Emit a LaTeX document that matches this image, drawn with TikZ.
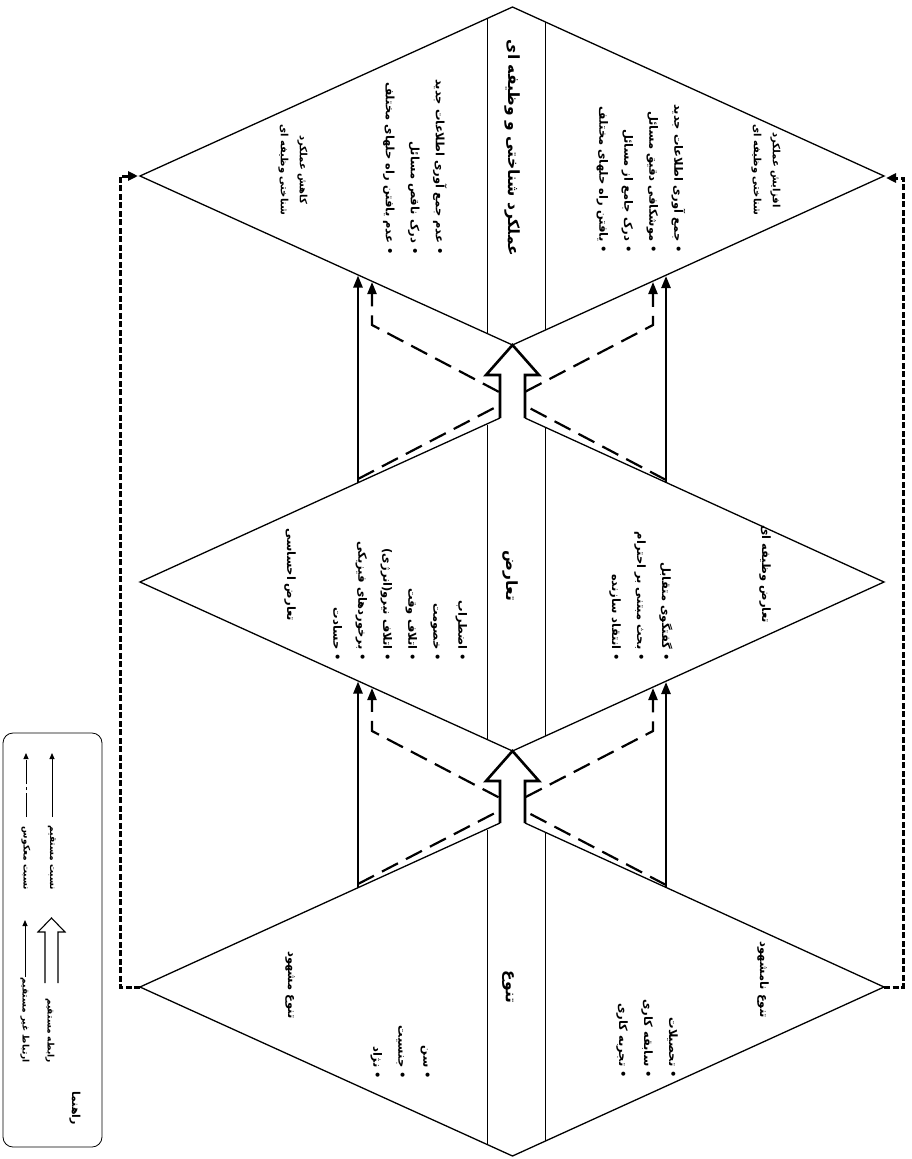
\documentclass[tikz,border=0pt]{standalone}
\usepackage{fontspec}
\usetikzlibrary{arrows.meta}
\TeXXeTstate=1
\newfontfamily\fa[Script=Arabic]{DejaVu Sans}
\newcommand{\rl}[1]{\beginR #1\endR}
\begin{document}
\begin{tikzpicture}[x=1pt,y=-1pt,
  edge/.style={line width=1.3pt, line join=miter},
  band/.style={line width=0.7pt},
  direct/.style={line width=2.4pt,-{Triangle[length=12pt,width=9pt]}},
  inverse/.style={line width=2.2pt,dash pattern=on 18pt off 9pt,-{Triangle[length=12pt,width=9pt]}},
  indirect/.style={line width=3pt,dash pattern=on 6pt off 2.5pt,-{Triangle[length=10pt,width=9pt]}},
  bigarrow/.style={line width=2.6pt, fill=white, line join=miter},
  rt/.style={rotate=-90, inner sep=0pt},
  unittitle/.style={rt, font=\fa\bfseries\fontsize{15.5}{20}\selectfont},
  tripheading/.style={rt, align=center, font=\fa\bfseries\fontsize{11.5}{20}\selectfont},
  smallheading/.style={rt, align=center, font=\fa\bfseries\fontsize{10}{19}\selectfont},
  bulletlist/.style={rt, align=right, anchor=east, font=\fa\bfseries\fontsize{11.5}{25}\selectfont},
  legtext/.style={rt, anchor=east, font=\fa\bfseries\fontsize{9}{11}\selectfont},
  legarrow/.style={line width=0.9pt,-{Triangle[length=6pt,width=5pt]}},
]
\useasboundingbox[fill=white] (0,0) rectangle (911,1159);

% vertices
\coordinate (L1) at (140,176); \coordinate (R1) at (884,176);
\coordinate (L2) at (140,582); \coordinate (R2) at (884,582);
\coordinate (L3) at (140,987); \coordinate (R3) at (884,987);
\coordinate (T1) at (512.5,7);
\coordinate (B1) at (512.5,345); \coordinate (B2) at (512.5,751); \coordinate (B3) at (512.5,1156);
\coordinate (S2l) at (500,418); \coordinate (S2r) at (525,418);
\coordinate (S3l) at (500,823); \coordinate (S3r) at (525,823);

% unit outlines
\draw[edge] (T1) -- (L1) -- (B1) -- (R1) -- cycle;
\draw[edge] (S2l) -- (L2) -- (B2) -- (R2) -- (S2r);
\draw[edge] (S3l) -- (L3) -- (B3) -- (R3) -- (S3r);

% central bands
\foreach \c in {176,582,987}{
  \draw[band] (487,{\c-157.2}) -- (487,{\c+157.2});
  \draw[band] (545,{\c-154.4}) -- (545,{\c+154.4});
}

% relations between units
\foreach \u/\l in {176/582,582/987}{
  \draw[inverse] (358,{\l-103}) -- (653,{\u+149}) -- (653,{\u+106});
  \draw[inverse] (666,{\l-102}) -- (372,{\u+149}) -- (372,{\u+106});
  \draw[direct] (358,{\l-98.8}) -- (358,{\u+99.5});
  \draw[direct] (666,{\l-99.3}) -- (666,{\u+100});
  \draw[bigarrow] (500,{\l-164}) -- (500,{\u+199}) -- (486,{\u+199}) -- (512.5,{\u+169})
      -- (539,{\u+199}) -- (525,{\u+199}) -- (525,{\l-164});
}

% outer indirect loop
\coordinate (oL1) at (120,987); \coordinate (oL2) at (120,176); \coordinate (oLe) at (138,176);
\coordinate (oR1) at (903,987); \coordinate (oR2) at (903,178); \coordinate (oRe) at (886,178);
\draw[indirect] (L3) -- (oL1) -- (oL2) -- (oLe);
\draw[indirect] (R3) -- (oR1) -- (oR2) -- (oRe);

% unit titles
\node[unittitle] (t1) at (512,148) {\rl{عملکرد شناختی و وظیفه ای}};
\node[unittitle] (t2) at (510,576) {\rl{تعارض}};
\node[unittitle] (t3) at (508,987) {\rl{تنوع}};

% triangle headings
\node[smallheading] (hTR) at (766,170) {\rl{افزایش عملکرد}\\\rl{شناختی وظیفه ای}};
\node[smallheading] (hTL) at (293,170) {\rl{کاهش عملکرد}\\\rl{شناختی وظیفه ای}};
\node[tripheading] (hMR) at (765,574) {\rl{تعارض وظیفه ای}};
\node[tripheading] (hML) at (290,575) {\rl{تعارض احساسی}};
\node[tripheading] (hBR) at (763,980) {\rl{تنوع نامشهود}};
\node[tripheading] (hBL) at (290,985) {\rl{تنوع مشهود}};

% bullet lists
\node[bulletlist] (bTR) at (641,253) {\rl{• جمع آوری اطلاعات جدید}\\\rl{• موشکافی دقیق مسائل}\\\rl{• درک جامع از مسائل}\\\rl{• یافتن راه حلهای مختلف}};
\node[bulletlist] (bTL) at (415,255) {\rl{• عدم جمع آوری اطلاعات جدید}\\\rl{• درک ناقص مسائل}\\\rl{• عدم یافتن راه حلهای مختلف}};
\node[bulletlist] (bMR) at (641,661) {\rl{• گفتگوی متقابل}\\\rl{• بحث مبتنی بر احترام}\\\rl{• انتقاد سازنده}};
\node[bulletlist] (bML) at (400,661) {\rl{• اضطراب}\\\rl{• خصومت}\\\rl{• اتلاف وقت}\\\rl{• اتلاف نیرو(انرژی)}\\\rl{• برخوردهای فیزیکی}\\\rl{• حسادت}};
\node[bulletlist] (bBR) at (647,1078) {\rl{• تحصیلات}\\\rl{• سابقه کاری}\\\rl{• تجربه کاری}};
\node[bulletlist] (bBL) at (400,1079) {\rl{• سن}\\\rl{• جنسیت}\\\rl{• نژاد}};

% legend
\node[draw, line width=0.8pt, rounded corners=10pt, minimum width=99pt, minimum height=414pt, inner sep=0pt] (legend) at (52.5,940) {};
\node[rt, font=\fa\bfseries\fontsize{11}{13}\selectfont] (lgT) at (75,1108) {\rl{راهنما}};
\node[legtext] (lg1) at (50,1063) {\rl{رابطه مستقیم}};
\node[legtext] (lg2) at (25,1063) {\rl{ارتباط غیر مستقیم}};
\node[legtext] (lg3) at (52,890) {\rl{نسبت مستقیم}};
\node[legtext] (lg4) at (26,890) {\rl{نسبت معکوس}};
\draw[line width=1.1pt, fill=white, line join=miter] (45,983) -- (45,932) -- (38,932) -- (51.5,918) -- (65,932) -- (58,932) -- (58,983);
\coordinate (g2a) at (25,977); \coordinate (g2b) at (25,920);
\coordinate (g3a) at (52,817); \coordinate (g3b) at (52,753);
\coordinate (g4a) at (26,817); \coordinate (g4b) at (26,753);
\draw[legarrow] (g2a) -- (g2b);
\draw[legarrow] (g3a) -- (g3b);
\draw[legarrow, dash pattern=on 24pt off 3pt on 3pt off 3pt] (g4a) -- (g4b);
\end{tikzpicture}
\end{document}
